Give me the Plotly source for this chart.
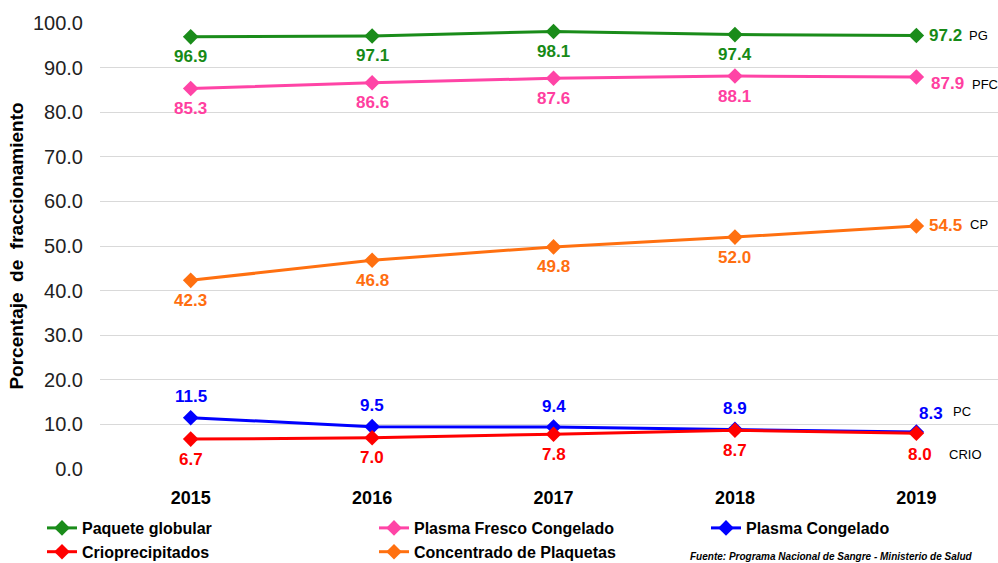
import plotly.graph_objects as go

years = ["2015", "2016", "2017", "2018", "2019"]
pg = [96.9, 97.1, 98.1, 97.4, 97.2]
pfc = [85.3, 86.6, 87.6, 88.1, 87.9]
cp = [42.3, 46.8, 49.8, 52.0, 54.5]
pc = [11.5, 9.5, 9.4, 8.9, 8.3]
crio = [6.7, 7.0, 7.8, 8.7, 8.0]

names = ["Paquete globular", "Plasma Fresco Congelado", "Plasma Congelado",
         "Crioprecipitados", "Concentrado de Plaquetas"]
short = ["PG", "PFC", "PC", "CRIO", "CP"]
series = [pg, pfc, pc, crio, cp]
colors = ["#1a8c1a", "#ff44a6", "#0000ff", "#ff0000", "#ff7010"]
label_colors = ["#178a17", "#ff3fa0", "#0000ff", "#ff0000", "#ff6e10"]

# label offsets (px): normal points, last point, short label
lab_dy = [-20, -20, 21, -20, -20]
last_dx = [29, 31, 15, 4, 29]
last_dy = [0, -7, 18, -21, 0]
short_dx = [62, 69, 46, 49, 63]
short_dy = [0, -8, 20, -21, 1]

xs = list(range(len(years)))
FONT = "Liberation Sans, Arial, sans-serif"

fig = go.Figure()
for i, vals in enumerate(series):
    fig.add_trace(go.Scatter(
        x=xs, y=vals, name=names[i], mode="lines+markers",
        line=dict(color=colors[i], width=3),
        marker=dict(symbol="diamond", size=12, color=colors[i]),
    ))

annotations = []
for i, vals in enumerate(series):
    for j, v in enumerate(vals):
        last = j == len(vals) - 1
        annotations.append(dict(
            x=xs[j], y=v, xref="x", yref="y", text=f"{v:.1f}", showarrow=False,
            xshift=last_dx[i] if last else 0,
            yshift=last_dy[i] if last else lab_dy[i],
            font=dict(family=FONT, size=17, color=label_colors[i], weight="bold"),
        ))
    annotations.append(dict(
        x=xs[-1], y=vals[-1], xref="x", yref="y", text=short[i], showarrow=False,
        xshift=short_dx[i], yshift=short_dy[i],
        font=dict(family=FONT, size=13, color="black"),
    ))

annotations.append(dict(
    x=(688 - 100) / 898, y=-(549 - 469) / 446, xref="paper", yref="paper",
    xanchor="left", yanchor="top",
    text="<i>Fuente: Programa Nacional de Sangre - Ministerio de Salud</i>",
    showarrow=False, font=dict(family=FONT, size=10, color="black", weight="bold"),
))

fig.update_layout(
    width=998, height=563,
    margin=dict(l=100, r=0, t=23, b=94, autoexpand=False),
    paper_bgcolor="white", plot_bgcolor="white",
    showlegend=True,
    legend=dict(
        orientation="h", x=(42 - 100) / 898, y=-(511 - 469) / 446,
        xanchor="left", yanchor="top",
        entrywidth=287, entrywidthmode="pixels",
        font=dict(family=FONT, size=16, color="black", weight="bold"),
        traceorder="normal", itemwidth=30,
    ),
    annotations=annotations,
    xaxis=dict(
        range=[-0.5, 4.45], tickvals=xs, ticktext=years,
        showgrid=False, zeroline=False, showline=False, ticks="",
        tickfont=dict(family=FONT, size=18, color="black", weight="bold"),
        ticklabelstandoff=16,
    ),
    yaxis=dict(
        range=[0, 100], dtick=10, tickformat=".1f",
        showgrid=True, gridcolor="#d9d9d9", gridwidth=1,
        zeroline=False, showline=False, ticks="",
        tickfont=dict(family=FONT, size=20, color="#222222"),
        ticklabelstandoff=16,
        title=dict(text="Porcentaje\u00a0 de\u00a0 fraccionamiento",
                   font=dict(family=FONT, size=19, color="black", weight="bold"),
                   standoff=4),
    ),
)

fig.write_html("out.html", config={"displayModeBar": False},
               post_script="document.body.style.margin='0';")
